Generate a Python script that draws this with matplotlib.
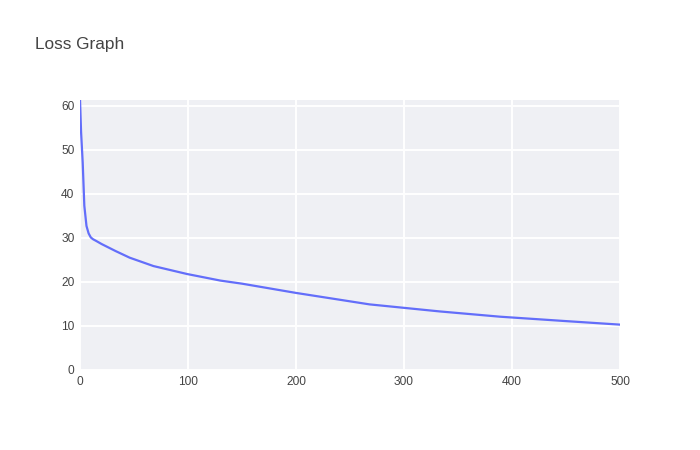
import matplotlib
matplotlib.use('Agg')
import matplotlib.pyplot as plt
import numpy as np

# loss 曲线
epochs = [0, 1, 2.5, 4, 6, 8, 10, 12, 15, 20, 33, 46, 68, 99, 130, 150, 200, 268, 333, 389, 450, 500]
loss = [61.5, 54, 47.1, 37.3, 32.7, 31.0, 30.1, 29.7, 29.3, 28.6, 27.0, 25.5, 23.6, 21.8, 20.3, 19.6, 17.5, 14.9, 13.3, 12.1, 11.1, 10.3]

x_ticks = [0, 100, 200, 300, 400, 500]
y_ticks = [0, 10, 20, 30, 40, 50, 60]

plt.rcParams['font.family'] = ['Liberation Sans', 'DejaVu Sans']

fig = plt.figure(figsize=(7, 4.5), dpi=100)
ax = fig.add_axes([80 / 700, 80 / 450, 540 / 700, 270 / 450])
ax.set_facecolor('#EFF0F4')

ax.plot(epochs, loss, color='#636efa', linewidth=1.6, solid_joinstyle='round')

ax.set_xlim(0, 500)
ax.set_ylim(0, 61.3)
ax.set_xticks(x_ticks)
ax.set_yticks(y_ticks)
ax.grid(True, color='white', linewidth=1.4)
ax.set_axisbelow(True)
for s in ax.spines.values():
    s.set_visible(False)
ax.tick_params(length=0, labelsize=8.6, labelcolor='#444444', pad=4)

fig.text(35 / 700, 1 - 45 / 450, 'Loss Graph', fontsize=12.4, color='#444444', va='center', ha='left')

fig.savefig('out.png', dpi=100)
